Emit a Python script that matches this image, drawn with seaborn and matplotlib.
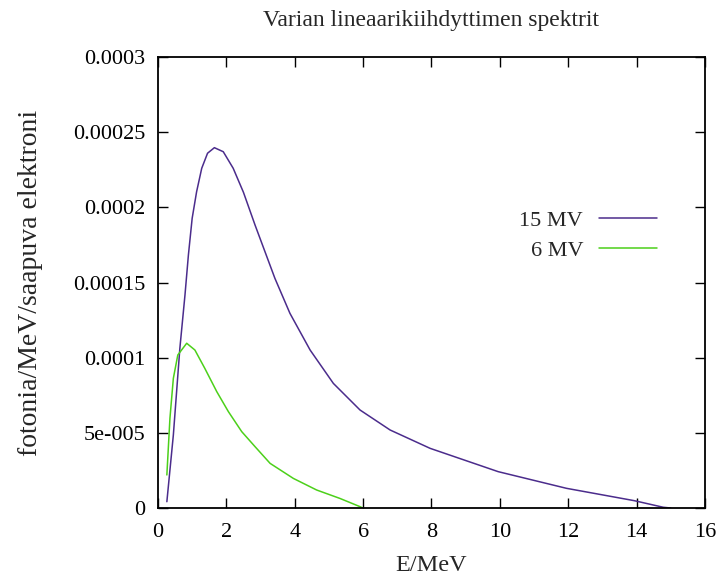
import matplotlib
matplotlib.use("Agg")
import matplotlib.pyplot as plt
import seaborn as sns
import pandas as pd

# Data (E in MeV, photons/MeV/electron)
e_15mv = [0.26, 0.45, 0.64, 0.79, 0.89, 1.00, 1.13, 1.28, 1.45, 1.65, 1.91, 2.20,
          2.50, 2.84, 3.13, 3.42, 3.86, 4.45, 5.13, 5.91, 6.79, 7.96, 9.95,
          11.95, 13.93, 14.78, 15.0]
y_15mv = [0.0000042, 0.0000486, 0.0001062, 0.0001417, 0.0001683, 0.0001927,
          0.0002104, 0.000226, 0.000236, 0.0002397, 0.000237, 0.000226, 0.00021,
          0.0001882, 0.0001705, 0.0001528, 0.0001295, 0.0001051, 0.0000829,
          0.0000652, 0.0000519, 0.0000397, 0.0000242, 0.0000131, 0.0000049,
          0.0000005, 0.0]
e_6mv = [0.26, 0.35, 0.45, 0.58, 0.84, 1.08, 1.37, 1.72, 2.06, 2.45, 2.84, 3.28,
         3.96, 4.64, 5.32, 5.91, 6.0]
y_6mv = [0.000022, 0.0000597, 0.0000863, 0.0001018, 0.0001096, 0.0001051,
         0.0000929, 0.0000774, 0.0000641, 0.0000508, 0.0000408, 0.0000297,
         0.0000197, 0.000012, 0.0000064, 0.0000009, 0.0]

yticks = [0, 0.00005, 0.0001, 0.00015, 0.0002, 0.00025, 0.0003]
ytick_labels = ["0", "5e-005", "0.0001", "0.00015", "0.0002", "0.00025", "0.0003"]
xticks = [0, 2, 4, 6, 8, 10, 12, 14, 16]

df = pd.concat([
    pd.DataFrame({"E": e_15mv, "y": y_15mv, "sarja": "15 MV"}),
    pd.DataFrame({"E": e_6mv, "y": y_6mv, "sarja": "6 MV"}),
])

sns.set_style("ticks")
plt.rcParams["font.family"] = ["Liberation Serif", "DejaVu Serif"]

fig = plt.figure(figsize=(7.21, 5.83), dpi=100)
ax = fig.add_axes([0.2191, 0.1286, 0.7587, 0.7736])

sns.lineplot(data=df, x="E", y="y", hue="sarja", ax=ax,
             palette={"15 MV": "#4b2c8c", "6 MV": "#4cd01a"}, linewidth=1.1, sort=False)

ax.set_xlim(0, 16)
ax.set_ylim(0, 0.0003)
ax.set_xticks(xticks)
ax.set_xticklabels([str(t) for t in xticks])
ax.set_yticks(yticks)
ax.set_yticklabels(ytick_labels)
ax.tick_params(direction="in", top=True, right=True, length=7, width=1,
               labelsize=16, colors="black")
ax.tick_params(axis="x", pad=11)
ax.tick_params(axis="y", pad=9)
for s in ax.spines.values():
    s.set_visible(True)
    s.set_linewidth(1.3)
    s.set_color("black")

ax.set_xlabel("E/MeV", fontsize=17.5, labelpad=9)
ax.set_ylabel("fotonia/MeV/saapuva elektroni", fontsize=20, labelpad=22)
ax.set_title("Varian lineaarikiihdyttimen spektrit", fontsize=17, pad=22)

ax.legend(title=None, frameon=False, markerfirst=False, fontsize=16,
          loc="upper right", bbox_to_anchor=(0.948, 0.705), handlelength=2.6,
          labelspacing=0.42, handletextpad=0.7)

fig.savefig("out.png", dpi=100)
